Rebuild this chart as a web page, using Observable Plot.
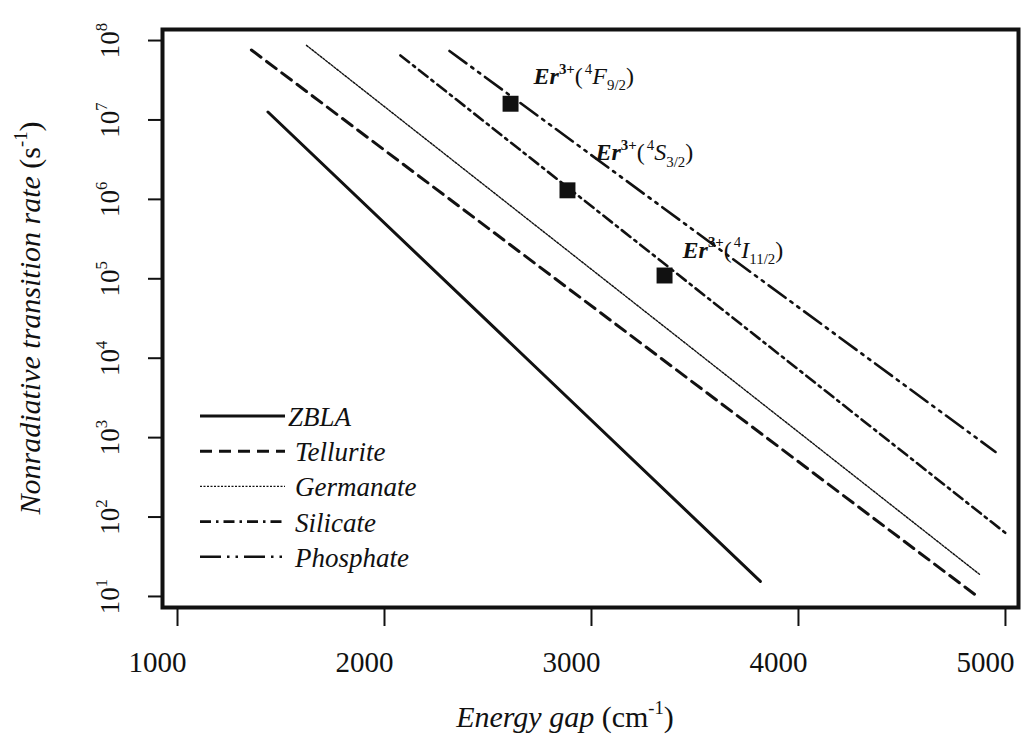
<!DOCTYPE html>
<html><head><meta charset="utf-8">
<script src="https://cdn.jsdelivr.net/npm/d3@7"></script>
<script src="https://cdn.jsdelivr.net/npm/@observablehq/plot@0.6"></script>
<style>
body{margin:0;background:#fff}
svg{font-family:"Liberation Serif","Times New Roman",serif}
</style>
</head><body><div id="chart"></div>
<script>
// ---- data ----
const seriesNames = ["ZBLA", "Tellurite", "Germanate", "Silicate", "Phosphate"];
const startEnergy = [1437, 1357, 1623, 2077, 2314];
const startRate   = [1.26e7, 7.6e7, 8.7e7, 6.5e7, 7.4e7];
const endEnergy   = [3816, 4865, 4879, 5000, 4952];
const endRate     = [15.5, 10, 18.6, 63, 660];

const transitionStates = ["4F9/2", "4S3/2", "4I11/2"];
const transitionEnergy = [2609, 2884, 3353];
const transitionRate   = [1.6e7, 1.3e6, 1.1e5];
const ion = "Er", ionCharge = "3+";

const xTicks = [1000, 2000, 3000, 4000, 5000];
const yTicks = [1e1, 1e2, 1e3, 1e4, 1e5, 1e6, 1e7, 1e8];

const xTitle = "Energy gap", xUnit = "cm", xUnitExp = "-1";
const yTitle = "Nonradiative transition rate", yUnit = "s", yUnitExp = "-1";

// ---- styles ----
const ink = "#111";
const lineStyles = [
  {strokeWidth: 3},
  {strokeWidth: 3, strokeDasharray: "12,7"},
  {strokeWidth: 1.4, strokeDasharray: "2,1.5"},
  {strokeWidth: 2.6, strokeDasharray: "11,5,2.5,5"},
  {strokeWidth: 2.6, strokeDasharray: "21,6,2.5,6,2.5,6"}
];
const labelOffsets = [[23, -20], [28, -30], [18, -18]];
const FONT = '"Liberation Serif","Times New Roman",serif';

const lineMarks = seriesNames.map((name, i) =>
  Plot.line(
    [{e: startEnergy[i], r: startRate[i]}, {e: endEnergy[i], r: endRate[i]}],
    {x: "e", y: "r", stroke: ink, ...lineStyles[i]}
  )
);

const transitions = transitionStates.map((s, i) => ({s, e: transitionEnergy[i], r: transitionRate[i]}));

const plot = Plot.plot({
  width: 1022, height: 742,
  marginLeft: 162, marginRight: 4, marginTop: 29, marginBottom: 135,
  style: {fontFamily: FONT, background: "transparent", color: ink},
  x: {domain: [927.5, 5063]},
  y: {type: "log", domain: [10 ** 0.861, 10 ** 8.139]},
  marks: [
    Plot.axisX({ticks: xTicks, tickSize: 19, strokeWidth: 2, label: null, tickFormat: () => ""}),
    Plot.axisY({ticks: yTicks, tickSize: 14, strokeWidth: 2, label: null, tickFormat: () => ""}),
    Plot.text(xTicks, {
      x: d => d, frameAnchor: "bottom", dy: 44, dx: -20, lineAnchor: "top",
      text: d => String(d), fontSize: 29, fill: ink
    }),
    ...lineMarks,
    Plot.dot(transitions, {x: "e", y: "r", symbol: "square", r: 9, fill: ink, stroke: "none"}),
    ...transitions.map((t, k) => Plot.text([t], {
      x: "e", y: "r", text: "s", dx: labelOffsets[k][0], dy: labelOffsets[k][1],
      textAnchor: "start", lineAnchor: "bottom", fontSize: 24, fill: ink
    })),
    Plot.text(yTicks, {
      y: d => d, frameAnchor: "left", dx: -44, rotate: -90, textAnchor: "middle", lineAnchor: "bottom",
      text: d => "E" + Math.round(Math.log10(d)), fontSize: 27, fill: ink
    }),
    Plot.frame({stroke: ink, strokeWidth: 4})
  ]
});
document.getElementById("chart").appendChild(plot);

// ---- rich text helpers ----
const NS = "http://www.w3.org/2000/svg";
function rich(el, parts, size) {
  el.textContent = "";
  let shift = 0;
  for (const p of parts) {
    const ts = document.createElementNS(NS, "tspan");
    const target = p.sup ? -0.42 : p.sub ? 0.28 : 0;
    const d = (target - shift) * size;
    if (d) ts.setAttribute("dy", d.toFixed(2));
    shift = target;
    if (p.sup || p.sub) ts.setAttribute("font-size", (size * 0.62).toFixed(1));
    if (p.italic) ts.setAttribute("font-style", "italic");
    if (p.bold) ts.setAttribute("font-weight", "bold");
    if (p.dx) ts.setAttribute("dx", p.dx);
    ts.textContent = p.t;
    el.appendChild(ts);
  }
}

const svg = d3.select(plot);
svg.selectAll("text").each(function() {
  const s = this.textContent;
  if (/^E\d$/.test(s)) {
    rich(this, [{t: "10"}, {t: s.slice(1), sup: true}], 27);
  } else if (transitionStates.includes(s)) {
    rich(this, [
      {t: ion, bold: true, italic: true},
      {t: ionCharge, sup: true, bold: true},
      {t: "("},
      {t: s[0], sup: true, dx: 2},
      {t: s[1], italic: true},
      {t: s.slice(2), sub: true},
      {t: ")"}
    ], 24);
  }
});

const xs = plot.scale("x"), ys = plot.scale("y");
// x title
const xc = (xs.range[0] + xs.range[1]) / 2 - 25;
const xt = svg.append("text").attr("x", xc).attr("y", 727).attr("text-anchor", "middle")
  .attr("font-size", 30).attr("fill", ink).node();
rich(xt, [{t: xTitle, italic: true}, {t: " (" + xUnit}, {t: xUnitExp, sup: true}, {t: ")"}], 30);
// y title
const yc = (ys.range[0] + ys.range[1]) / 2;
const yt = svg.append("text").attr("transform", `translate(40,${yc}) rotate(-90)`).attr("text-anchor", "middle")
  .attr("font-size", 30).attr("fill", ink).node();
rich(yt, [{t: yTitle, italic: true}, {t: " (" + yUnit}, {t: yUnitExp, sup: true}, {t: ")"}], 30);

// legend
const legendTop = 416, legendStep = 35.2;
const leg = svg.append("g").attr("font-size", 27).attr("font-style", "italic").attr("fill", ink).attr("text-anchor", "start");
seriesNames.forEach((name, i) => {
  const y = legendTop + i * legendStep;
  leg.append("line").attr("x1", 200).attr("x2", 285).attr("y1", y).attr("y2", y)
    .attr("stroke", ink).attr("stroke-width", lineStyles[i].strokeWidth)
    .attr("stroke-dasharray", lineStyles[i].strokeDasharray || null);
  leg.append("text").attr("x", i === 0 ? 288 : 295).attr("y", y + 10).text(name);
});
</script>
</body></html>
